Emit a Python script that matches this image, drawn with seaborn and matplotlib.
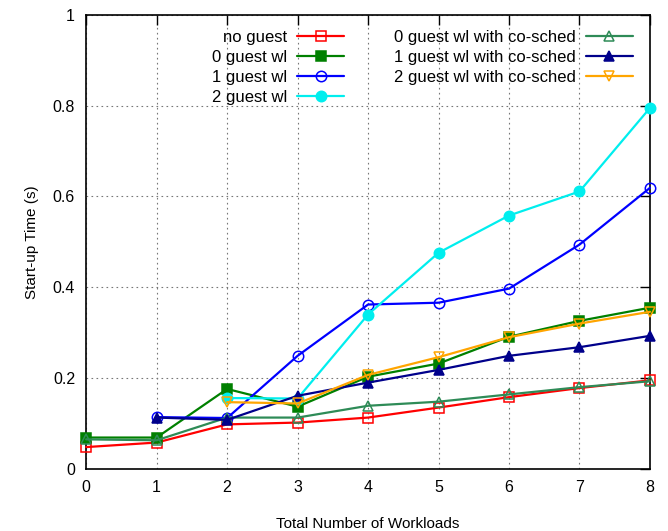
import numpy as np
import pandas as pd
import seaborn as sns
import matplotlib.pyplot as plt

# workloads on x axis
workloads = [0, 1, 2, 3, 4, 5, 6, 7, 8]

no_guest = [0.048, 0.058, 0.098, 0.102, 0.113, 0.135, 0.158, 0.178, 0.195]
guest0 = [0.069, 0.069, 0.176, 0.137, 0.203, 0.232, 0.291, 0.326, 0.355]
guest1 = [np.nan, 0.114, 0.112, 0.249, 0.362, 0.366, 0.397, 0.494, 0.619]
guest2 = [np.nan, np.nan, 0.156, 0.155, 0.340, 0.476, 0.558, 0.611, 0.795]
cosched0 = [0.065, 0.063, 0.113, 0.113, 0.139, 0.148, 0.164, 0.180, 0.193]
cosched1 = [np.nan, 0.113, 0.108, 0.161, 0.190, 0.218, 0.249, 0.268, 0.293]
cosched2 = [np.nan, np.nan, 0.147, 0.144, 0.207, 0.246, 0.290, 0.320, 0.346]

series = [
    ("no guest", no_guest, "#ff0000", "s", False),
    ("0 guest wl", guest0, "#008000", "s", True),
    ("1 guest wl", guest1, "#0000ff", "o", False),
    ("2 guest wl", guest2, "#00eeee", "o", True),
    ("0 guest wl with co-sched", cosched0, "#2e8b57", "^", False),
    ("1 guest wl with co-sched", cosched1, "#00008b", "^", True),
    ("2 guest wl with co-sched", cosched2, "#ffa500", "v", False),
]

sns.set_theme(style="white")
plt.rcParams['font.family'] = ['Liberation Sans', 'DejaVu Sans']
plt.rcParams['text.color'] = 'black'
plt.rcParams['axes.labelcolor'] = 'black'

fig = plt.figure(figsize=(6.68, 5.31), dpi=100)
ax = fig.add_axes([0.129, 0.117, 0.844, 0.855])

for name, vals, col, mk, filled in series:
    df = pd.DataFrame({"x": workloads, "y": vals}).dropna()
    sns.lineplot(data=df, x="x", y="y", ax=ax, color=col, marker=mk,
                 markersize=7.5, linewidth=1.6, clip_on=False, zorder=3,
                 markerfacecolor=col if filled else "none",
                 markeredgecolor=col, markeredgewidth=1.1, label=name)

ax.set_xlim(0, 8)
ax.set_ylim(0, 1)
ax.set_xticks(workloads)
ax.set_yticks([0, 0.2, 0.4, 0.6, 0.8, 1])
ax.set_yticklabels(["0", "0.2", "0.4", "0.6", "0.8", "1"])
ax.tick_params(direction="in", length=7, width=1, top=True, right=True,
               labelsize=11.5, colors="black", pad=8)
ax.grid(True, linestyle=(0, (1.5, 3)), color="#777777", linewidth=0.8)
for s in ax.spines.values():
    s.set_color("black")
    s.set_linewidth(1.2)

ax.set_xlabel("Total Number of Workloads", fontsize=11, labelpad=16)
ax.set_ylabel("Start-up Time (s)", fontsize=11, labelpad=10)

ax.legend(ncol=2, loc="upper right", bbox_to_anchor=(0.981, 0.982),
          frameon=False, markerfirst=False, fontsize=12,
          handlelength=2.8, handletextpad=0.6, columnspacing=3.0,
          labelspacing=0.3, borderaxespad=0)

fig.savefig("out.png", dpi=100)
